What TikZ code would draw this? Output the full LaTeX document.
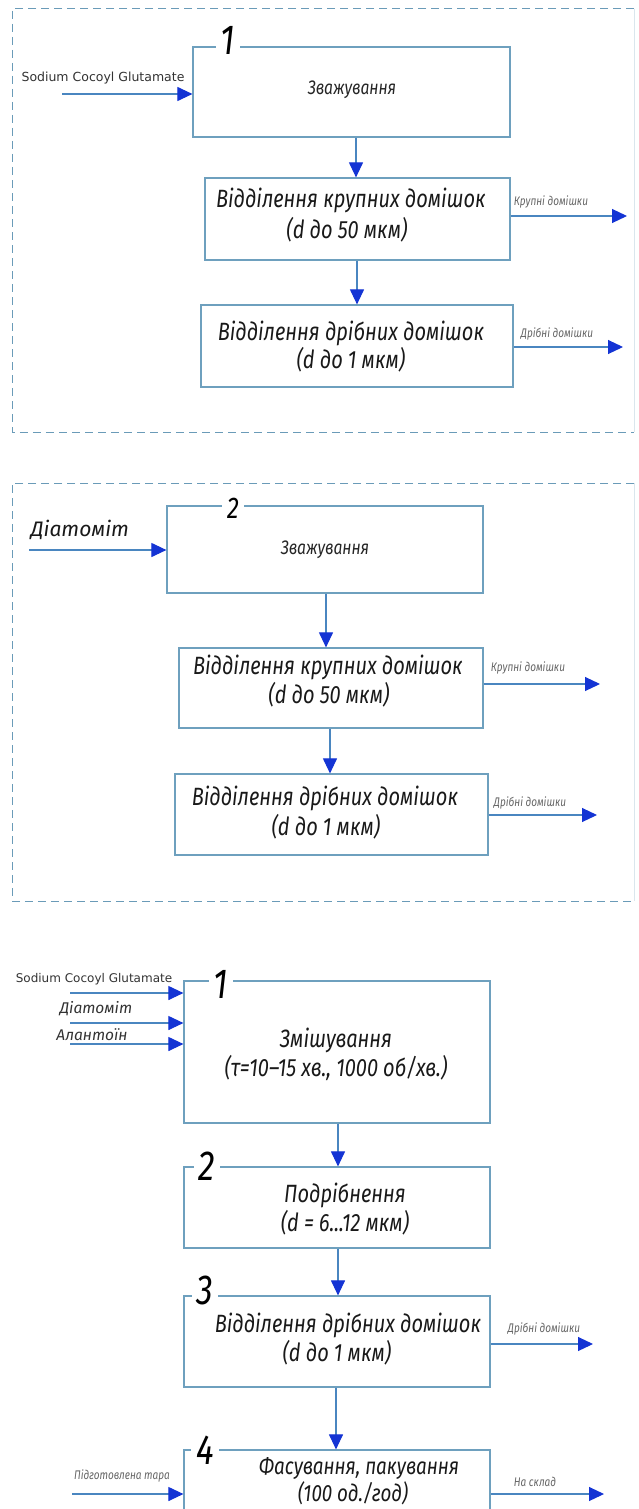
\documentclass[tikz,border=0pt]{standalone}
\usepackage{fontspec}
\usetikzlibrary{arrows.meta,fit}
\newfontfamily\gost{Fira Sans}[FakeStretch=0.8]
\newfontfamily\firai{Fira Sans}
\newfontfamily\dejavu{DejaVu Sans}
\definecolor{boxline}{HTML}{6EA0BE}
\definecolor{flowline}{HTML}{4A86C0}
\definecolor{arrowblue}{HTML}{1434D4}
\definecolor{frameline}{HTML}{6A9BB8}
\tikzset{
  box/.style={draw=boxline, line width=1.2pt, inner sep=0pt, rectangle},
  flow/.style={draw=flowline, line width=1.1pt, -{Triangle[length=15pt,width=14pt,color=arrowblue,fill=arrowblue]}},
  frame/.style={draw=frameline, line width=1pt, dash pattern=on 8pt off 5pt},
  faintframe/.style={draw=frameline!25, line width=1pt},
  main/.style={font=\gost\itshape\fontsize{25}{29}\selectfont, text=black!90, inner sep=0pt},
  mainlow/.style={font=\gost\itshape\fontsize{23.5}{27}\selectfont, text=black!90, inner sep=0pt},
  sub/.style={font=\gost\itshape\fontsize{19.5}{22}\selectfont, text=black!85, inner sep=0pt},
  small/.style={font=\gost\itshape\fontsize{12.5}{14}\selectfont, text=black!60, inner sep=0pt},
  num/.style={font=\gost\itshape\fontsize{42}{46}\selectfont, fill=white, inner xsep=5pt, inner ysep=0pt},
  lat/.style={font=\dejavu\fontsize{12.5}{14}\selectfont, text=black!80, inner sep=0pt},
  cyr/.style={font=\firai\itshape\fontsize{21}{24}\selectfont, text=black!90, inner sep=0pt},
  cyrs/.style={font=\firai\itshape\fontsize{15.5}{18}\selectfont, text=black!80, inner sep=0pt}
}
\begin{document}
\begin{tikzpicture}[x=1pt,y=-1pt]
\useasboundingbox (0,0) rectangle (638,1509);
\fill[white] (0,0) rectangle (638,1509);

% ===== Section 1 =====
\draw[faintframe] (634,9) -- (634,432);
\draw[frame] (634,9) -- (12,9) -- (12,432) -- (634,432);

\node[box, fit={(193,47) (510,137)}] (T1) {};
\node[box, fit={(205,178) (510,260)}] (T2) {};
\node[box, fit={(201,305) (513,387)}] (T3) {};
\node[num] (T1n) at (228,40) {1};

\node[sub] (T1t) at (352,90) {Зважування};
\node[main] (T2a) at (351,200) {Відділення крупних домішок};
\node[main] (T2b) at (347,230) {(d до 50 мкм)};
\node[main] (T3a) at (351,333) {Відділення дрібних домішок};
\node[main] (T3b) at (351,360) {(d до 1 мкм)};

\node[lat] (Tin) at (103,78) {Sodium Cocoyl Glutamate};
\coordinate (iT1) at (62,94);
\draw[flow] (iT1) -- (T1.west |- iT1);

\coordinate (cT12) at (356,0);
\draw[flow] (T1.south -| cT12) -- (T2.north -| cT12);
\coordinate (cT23) at (357,0);
\draw[flow] (T2.south -| cT23) -- (T3.north -| cT23);

\node[small] (ToutA) at (551,202) {Крупні домішки};
\coordinate (oT2) at (627,216);
\draw[flow] (T2.east |- oT2) -- (oT2);
\node[small] (ToutB) at (557,334) {Дрібні домішки};
\coordinate (oT3) at (623,347);
\draw[flow] (T3.east |- oT3) -- (oT3);

% ===== Section 2 =====
\draw[faintframe] (634,483) -- (634,901);
\draw[frame] (634,483) -- (12,483) -- (12,901) -- (634,901);

\node[box, fit={(167,506) (483,593)}] (M1) {};
\node[box, fit={(179,648) (483,728)}] (M2) {};
\node[box, fit={(175,774) (488,855)}] (M3) {};
\node[num, font=\gost\itshape\fontsize{30}{34}\selectfont] (M1n) at (233,508) {2};

\node[sub] (M1t) at (325,550) {Зважування};
\node[main] (M2a) at (328,667) {Відділення крупних домішок};
\node[main] (M2b) at (329,695) {(d до 50 мкм)};
\node[main] (M3a) at (325,798) {Відділення дрібних домішок};
\node[main] (M3b) at (326,827) {(d до 1 мкм)};

\node[cyr] (Min) at (80,530) {Діатоміт};
\coordinate (iM1) at (29,550);
\draw[flow] (iM1) -- (M1.west |- iM1);

\coordinate (cM12) at (326,0);
\draw[flow] (M1.south -| cM12) -- (M2.north -| cM12);
\coordinate (cM23) at (330,0);
\draw[flow] (M2.south -| cM23) -- (M3.north -| cM23);

\node[small] (MoutA) at (528,668) {Крупні домішки};
\coordinate (oM2) at (600,684);
\draw[flow] (M2.east |- oM2) -- (oM2);
\node[small] (MoutB) at (530,803) {Дрібні домішки};
\coordinate (oM3) at (597,815);
\draw[flow] (M3.east |- oM3) -- (oM3);

% ===== Section 3 =====
\node[box, fit={(184,981) (490,1123)}] (B1) {};
\node[box, fit={(184,1167) (490,1248)}] (B2) {};
\node[box, fit={(184,1296) (490,1387)}] (B3) {};
\node[box, fit={(184,1450) (490,1540)}] (B4) {};
\node[num] (B1n) at (221,984) {1};
\node[num] (B2n) at (207,1166) {2};
\node[num] (B3n) at (205,1290) {3};
\node[num] (B4n) at (205,1450) {4};

\node[main] (B1a) at (336,1040) {Змішування};
\node[main] (B1b) at (336,1068) {(τ=10–15 хв., 1000 об/хв.)};
\node[main] (B2a) at (345,1195) {Подрібнення};
\node[main] (B2b) at (345,1223) {(d = 6...12 мкм)};
\node[main] (B3a) at (348,1325) {Відділення дрібних домішок};
\node[main] (B3b) at (337,1353) {(d до 1 мкм)};
\node[mainlow] (B4a) at (359,1468) {Фасування, пакування};
\node[mainlow] (B4b) at (353,1493) {(100 од./год)};

\node[lat, font=\dejavu\fontsize{12}{14}\selectfont] (Bin1) at (94,979) {Sodium Cocoyl Glutamate};
\coordinate (iB1) at (70,993);
\draw[flow] (iB1) -- (B1.west |- iB1);
\node[cyrs] (Bin2) at (96,1009) {Діатоміт};
\coordinate (iB2) at (70,1023);
\draw[flow] (iB2) -- (B1.west |- iB2);
\node[cyrs] (Bin3) at (92,1035) {Алантоїн};
\coordinate (iB3) at (70,1044);
\draw[flow] (iB3) -- (B1.west |- iB3);

\coordinate (cB12) at (338,0);
\draw[flow] (B1.south -| cB12) -- (B2.north -| cB12);
\draw[flow] (B2.south -| cB12) -- (B3.north -| cB12);
\coordinate (cB34) at (336,0);
\draw[flow] (B3.south -| cB34) -- (B4.north -| cB34);

\node[small] (BoutA) at (544,1329) {Дрібні домішки};
\coordinate (oB3) at (593,1344);
\draw[flow] (B3.east |- oB3) -- (oB3);

\node[small] (Bin4) at (122,1476) {Підготовлена тара};
\coordinate (iB4) at (72,1494);
\draw[flow] (iB4) -- (B4.west |- iB4);
\node[small] (BoutB) at (535,1482) {На склад};
\coordinate (oB4) at (604,1494);
\draw[flow] (B4.east |- oB4) -- (oB4);
\end{tikzpicture}
\end{document}
